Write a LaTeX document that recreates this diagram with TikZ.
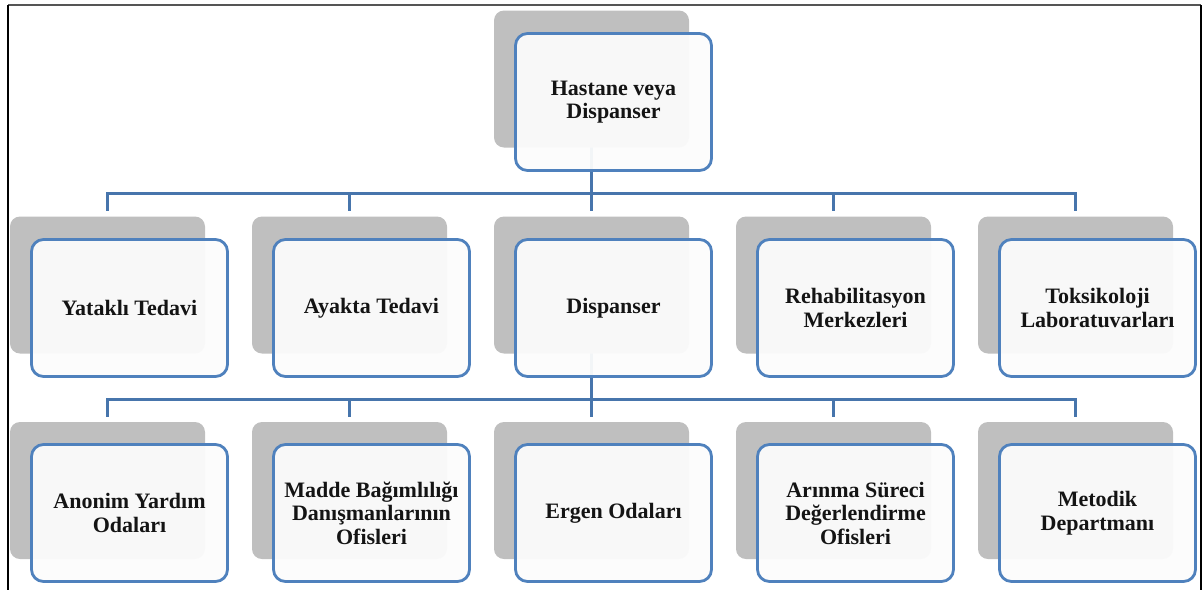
\documentclass[tikz,border=0pt]{standalone}
\usepackage{fontspec}
\setmainfont{Liberation Serif}
\pgfdeclarelayer{bg}
\pgfsetlayers{bg,main}
\definecolor{boxblue}{HTML}{4F81BD}
\definecolor{lineblue}{HTML}{4775AC}
\definecolor{shadowgray}{HTML}{BFBFBF}
\definecolor{boxfill}{HTML}{FCFCFC}
\definecolor{framegray}{HTML}{555555}
\tikzset{
  shadowbox/.style={fill=shadowgray, draw=none, rounded corners=10pt,
    minimum width=195pt, minimum height=137pt, inner sep=0pt},
  mainbox/.style={draw=boxblue, line width=2.8pt, fill=boxfill, fill opacity=0.95,
    text opacity=1, rounded corners=12pt, minimum width=196pt, minimum height=137pt,
    inner sep=0pt, align=center, text=black!92,
    font=\fontsize{22}{23.5}\selectfont\bfseries},
  conn/.style={draw=lineblue, line width=3pt},
  frameline/.style={line width=1.4pt}
}
\begin{document}
\begin{tikzpicture}[x=1pt,y=-1pt]
\useasboundingbox (0,0) rectangle (1203,590);
% frame
\draw[frameline, draw=framegray] (8,5) -- (1201,5);
\draw[frameline] (8,5) -- (8,590);
\draw[frameline, line width=2pt] (1201,5) -- (1201,590);

% top
\node[shadowbox] (gt) at (591.5,79) {};
\node[mainbox] (bt) at (613.5,102) {Hastane veya\\Dispanser};

% row 1
\node[shadowbox] (g1) at (107.5,285) {};
\node[mainbox] (b1) at (129.5,308) {Yataklı Tedavi};
\node[shadowbox] (g2) at (349.5,285) {};
\node[mainbox] (b2) at (371.5,308) {Ayakta Tedavi};
\node[shadowbox] (g3) at (591.5,285) {};
\node[mainbox] (b3) at (613.5,308) {Dispanser};
\node[shadowbox] (g4) at (833.5,285) {};
\node[mainbox] (b4) at (855.5,308) {Rehabilitasyon\\Merkezleri};
\node[shadowbox] (g5) at (1075.5,285) {};
\node[mainbox] (b5) at (1097.5,308) {Toksikoloji\\Laboratuvarları};

% row 2
\node[shadowbox] (h1) at (107.5,490.5) {};
\node[mainbox] (c1) at (129.5,513) {Anonim Yardım\\Odaları};
\node[shadowbox] (h2) at (349.5,490.5) {};
\node[mainbox] (c2) at (371.5,513) {Madde Bağımlılığı\\Danışmanlarının\\Ofisleri};
\node[shadowbox] (h3) at (591.5,490.5) {};
\node[mainbox] (c3) at (613.5,513) {Ergen Odaları};
\node[shadowbox] (h4) at (833.5,490.5) {};
\node[mainbox] (c4) at (855.5,513) {Arınma Süreci\\Değerlendirme\\Ofisleri};
\node[shadowbox] (h5) at (1075.5,490.5) {};
\node[mainbox] (c5) at (1097.5,513) {Metodik\\Departmanı};

\coordinate (bus1) at (591.5,193);
\coordinate (bus2) at (591.5,399);

\begin{pgfonlayer}{bg}
  \draw[conn] (gt.center) -- (bus1);
  \foreach \n in {g1,g2,g3,g4,g5}
    \draw[conn] (bus1) -| ([yshift=5pt]\n.north);
  \draw[conn] (g3.center) -- (bus2);
  \foreach \n in {h1,h2,h3,h4,h5}
    \draw[conn] (bus2) -| ([yshift=5pt]\n.north);
\end{pgfonlayer}
\end{tikzpicture}
\end{document}
